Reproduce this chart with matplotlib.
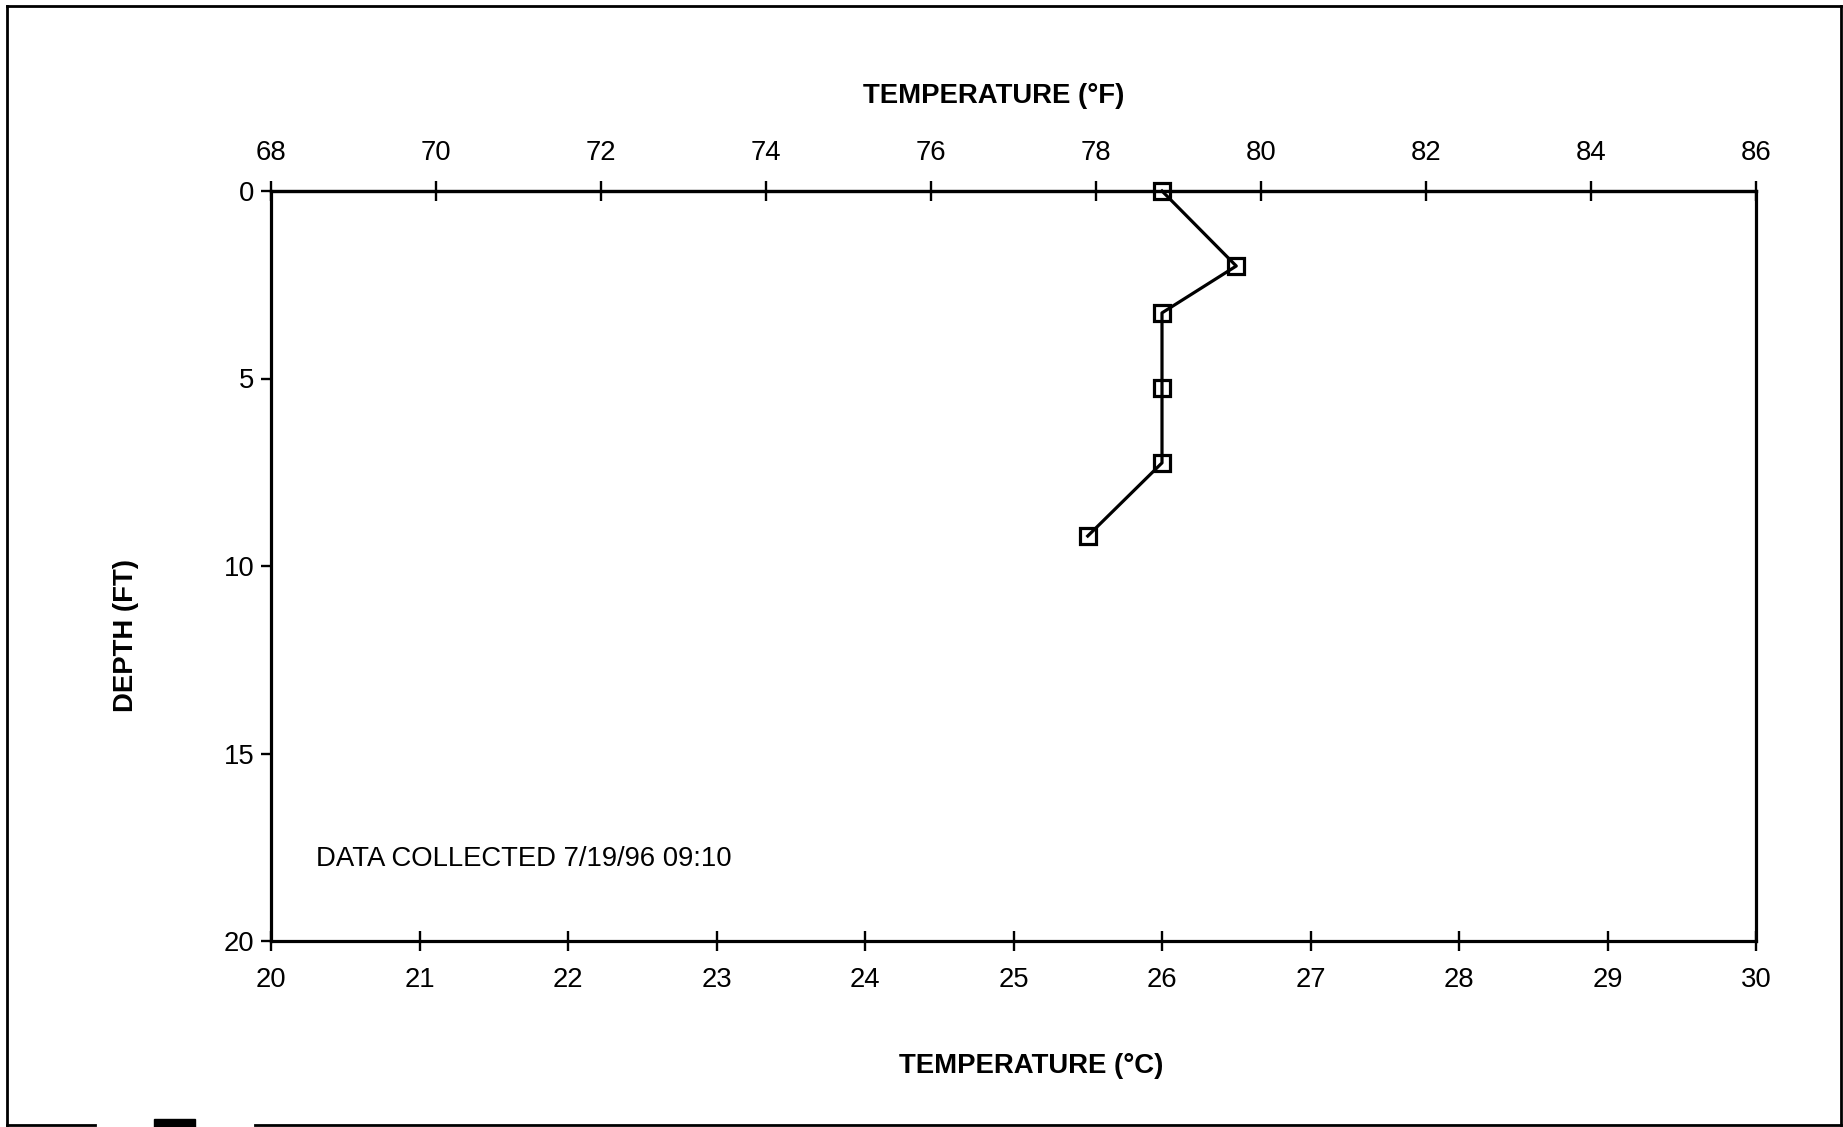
import matplotlib
matplotlib.use("Agg")
import matplotlib.pyplot as plt
from matplotlib.lines import Line2D

plt.rcParams['font.family'] = ['Liberation Sans', 'DejaVu Sans']

# temperature profile, 7/19/96 09:10
depth_ft = [0.0, 2.0, 3.25, 5.25, 7.25, 9.2]
temp_c = [26.0, 26.5, 26.0, 26.0, 26.0, 25.5]

c_ticks = list(range(20, 31))
f_ticks = list(range(68, 87, 2))
depth_ticks = [0, 5, 10, 15, 20]


def c2f(c):
    return c * 9. / 5. + 32.


def f2c(f):
    return (f - 32.) * 5. / 9.


W, H = 1843, 1127
FS = 19.8
fig = plt.figure(figsize=(W / 100, H / 100), dpi=100)
ax = fig.add_axes([271 / W, 1 - 941 / H, (1756 - 271) / W, 750 / H])

ax.plot(temp_c, depth_ft, '-k', lw=2.3, marker='s', ms=11, mfc='none',
        mec='k', mew=2.3, clip_on=False, zorder=5)

ax.set_xlim(20, 30)
ax.set_ylim(20, 0)
ax.set_xticks(c_ticks)
ax.set_yticks(depth_ticks)
for s in ax.spines.values():
    s.set_linewidth(2.3)
ax.tick_params(axis='x', direction='inout', length=14, width=1.7,
               labelsize=FS, pad=12)
ax.tick_params(axis='y', direction='out', length=7, width=1.7,
               labelsize=FS, pad=5)

top = ax.secondary_xaxis('top', functions=(c2f, f2c))
top.set_xticks(f_ticks)
top.spines['top'].set_linewidth(2.3)
top.tick_params(direction='inout', length=14, width=1.7, labelsize=FS,
                pad=11)

fig.text(994 / W, 1 - 96 / H, 'TEMPERATURE (°F)', ha='center', va='center',
         fontsize=FS, fontweight='bold')
fig.text(1031 / W, 1 - 1066 / H, 'TEMPERATURE (°C)', ha='center',
         va='center', fontsize=FS, fontweight='bold')
fig.text(126 / W, 1 - 635 / H, 'DEPTH (FT)', ha='center', va='center',
         rotation=90, fontsize=FS, fontweight='bold')
ax.text(20.3, 17.8, 'DATA COLLECTED 7/19/96 09:10', ha='left', va='center',
        fontsize=FS)

# outer frame of the scanned page
frame = [((7, 6), (1841, 6)), ((1841, 6), (1841, 1125)),
         ((7, 6), (7, 1125)), ((7, 1125), (95, 1125)),
         ((255, 1125), (1841, 1125))]
for (x0, y0), (x1, y1) in frame:
    fig.add_artist(Line2D([x0 / W, x1 / W], [1 - y0 / H, 1 - y1 / H],
                          color='k', lw=2, transform=fig.transFigure))
fig.add_artist(plt.Rectangle((154 / W, 0), 41 / W, 8 / H, color='k',
                             transform=fig.transFigure))

fig.savefig('out.png', dpi=100)
